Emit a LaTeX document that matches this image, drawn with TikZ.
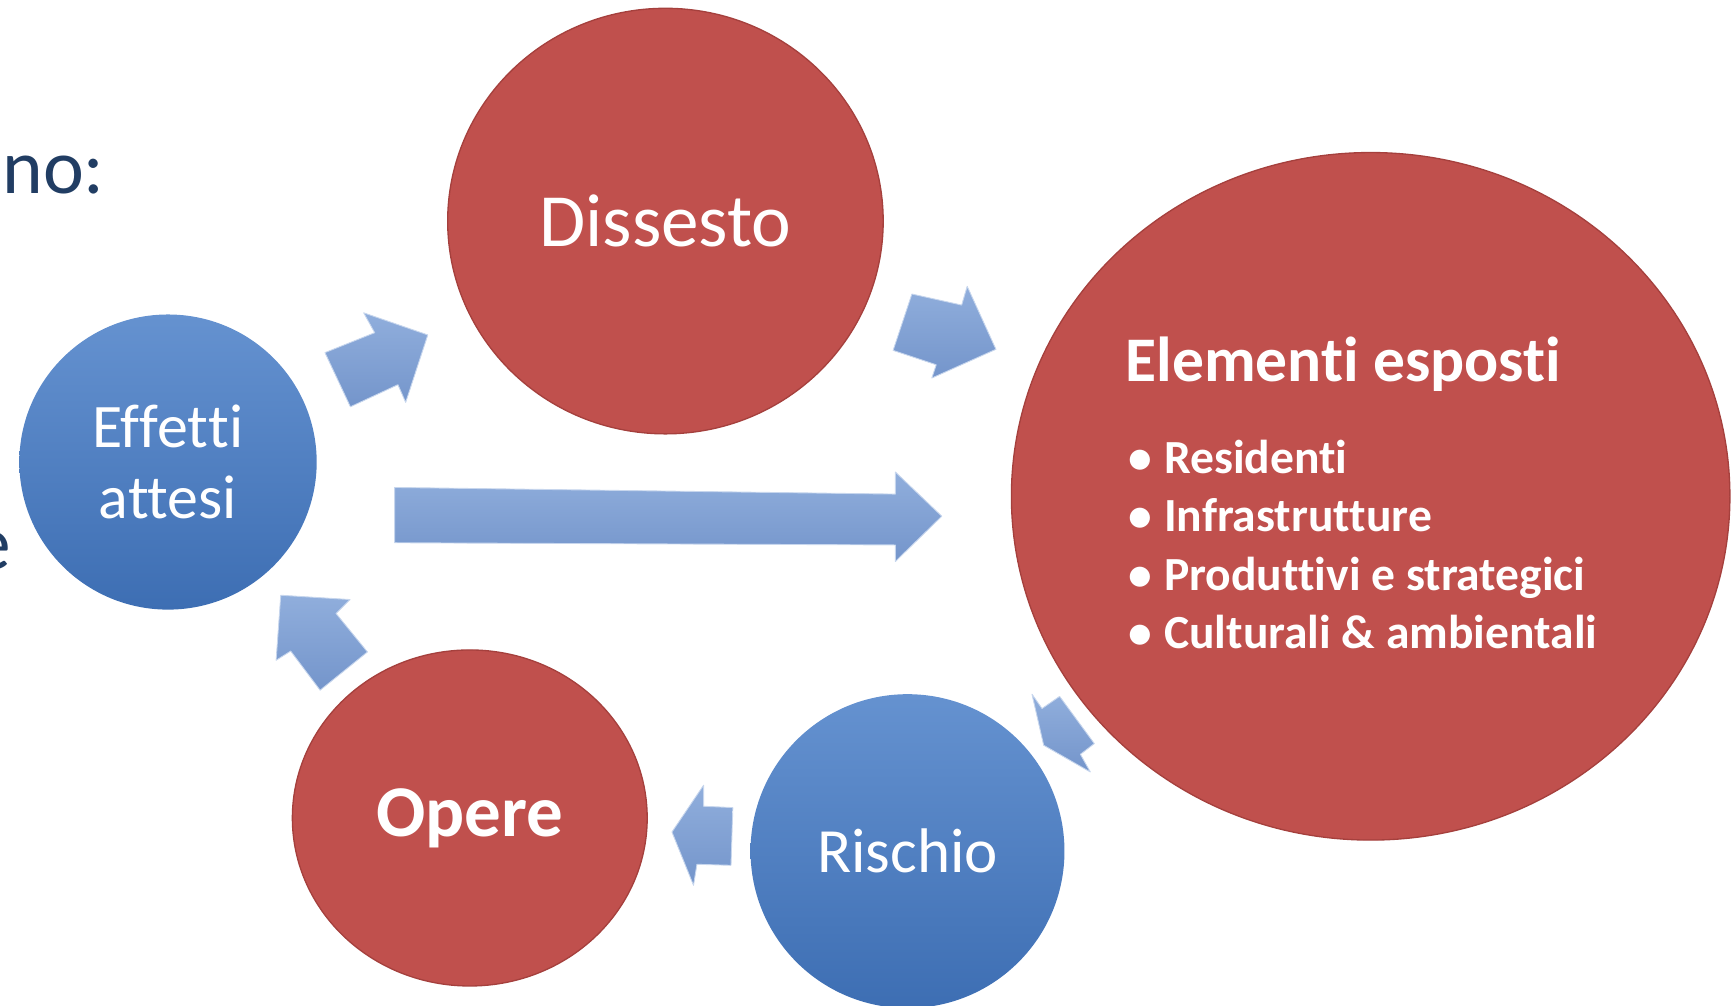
\documentclass[tikz,border=0pt]{standalone}
\usepackage{fontspec}
\setmainfont[Ligatures=NoCommon, RawFeature=-liga, RawFeature=-clig, RawFeature=-calt, RawFeature=-dlig]{Carlito}
\usetikzlibrary{shapes.geometric}
\definecolor{redc}{HTML}{C0504D}
\definecolor{redb}{HTML}{A5403D}
\definecolor{bluet}{HTML}{6592D0}
\definecolor{blueb}{HTML}{3D6EB3}
\definecolor{arrt}{HTML}{90AEDC}
\definecolor{arrb}{HTML}{7495CB}
\definecolor{navy}{HTML}{213D63}
\begin{document}
\begin{tikzpicture}[x=1pt,y=-1pt,
  redcirc/.style={ellipse, fill=redc, draw=redb, line width=1.2pt, inner sep=0pt, text=white},
  bluecirc/.style={ellipse, top color=bluet, bottom color=blueb, draw=none, inner sep=0pt, text=white},
  blockarrow/.style={top color=arrt, bottom color=arrb, draw=arrt!50!white, line width=0.8pt, line join=round},
  plaintext/.style={inner sep=0pt, text=white}]
\useasboundingbox (0,0) rectangle (1566,909.5);
\begin{scope}
\clip (0,0) rectangle (1566,909.5);
% side texts
\node[inner sep=0pt, anchor=base west, text=navy] (no) at (2,175) {\fontsize{70}{84}\selectfont no:};
\node[inner sep=0pt, anchor=base east, text=navy] (ee) at (10,515) {\fontsize{70}{84}\selectfont e};
% circles
\node[redcirc, minimum width=394pt, minimum height=385pt] (dis) at (602,200) {\fontsize{68}{82}\selectfont Dissesto};
\node[redcirc, minimum width=650pt, minimum height=622pt] (ele) at (1240,449) {};
\node[bluecirc, minimum width=269pt, minimum height=267pt, align=center, font=\fontsize{56}{64}\selectfont] (eff) at (152,418) {Ef\kern0ptfet\kern0ptti\\attesi};
\node[bluecirc, minimum size=284pt] (ris) at (821,770) {\fontsize{57}{68}\selectfont Rischio};
\node[redcirc, minimum width=321pt, minimum height=304pt] (ope) at (425,740) {\fontsize{66}{80}\selectfont\bfseries Opere};
% texts of Elementi esposti
\node[plaintext, anchor=base west] (elt) at (1018,345) {\fontsize{57.5}{68}\selectfont\bfseries Elementi esposti};
\node[plaintext, anchor=base west] (b1) at (1021,428) {\fontsize{43}{52}\selectfont\bfseries \makebox[32pt][l]{•}Residenti};
\node[plaintext, anchor=base west] (b2) at (1021,481) {\fontsize{43}{52}\selectfont\bfseries \makebox[32pt][l]{•}Infrastrutture};
\node[plaintext, anchor=base west] (b3) at (1021,534) {\fontsize{43}{52}\selectfont\bfseries \makebox[32pt][l]{•}Produttivi e strategici};
\node[plaintext, anchor=base west] (b4) at (1021,587) {\fontsize{43}{52}\selectfont\bfseries \makebox[32pt][l]{•}Culturali \& ambientali};
% block arrows
\path[blockarrow] (294,319) -- (339,301) -- (329,283) -- (387,303) -- (367,364) -- (360,348) -- (317,368) -- cycle;
\path[blockarrow] (825,266) -- (870,276) -- (875,259) -- (901,316) -- (843,342) -- (847,330) -- (808,317) -- cycle;
\path[blockarrow] (357,441) -- (810,447) -- (810,427) -- (852,467) -- (810,508) -- (810,493) -- (357,491) -- cycle;
\path[blockarrow] (958.6,630) -- (990,672.7) -- (977.4,682.4) -- (986.4,698.4) -- (944.2,674.2) -- (933.6,628) -- (942.7,641) -- cycle;
\path[blockarrow] (663,730.6) -- (661.3,782.8) -- (630.5,781.9) -- (627.4,800.9) -- (607.9,752.7) -- (636.5,710.4) -- (636.5,729.4) -- cycle;
\path[blockarrow] (332.4,589.8) -- (289.6,624.4) -- (263,589) -- (249.8,597.3) -- (254,538.5) -- (316.7,542.4) -- (304,555) -- cycle;
\end{scope}
\end{tikzpicture}
\end{document}
